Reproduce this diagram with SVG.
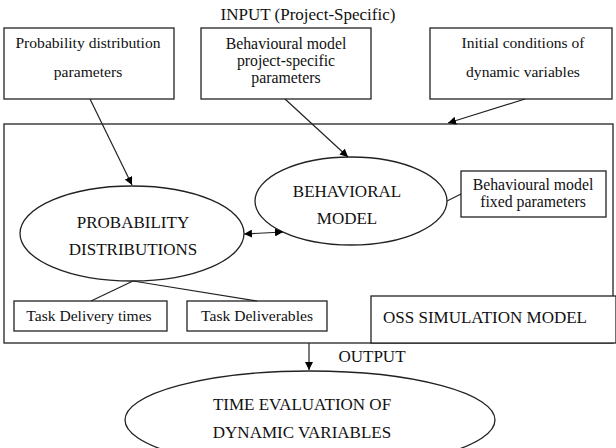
<svg xmlns="http://www.w3.org/2000/svg" width="616" height="448" viewBox="0 0 616 448">
<defs>
<marker id="ah" viewBox="0 0 10 10" refX="10" refY="5" markerWidth="8" markerHeight="8" markerUnits="userSpaceOnUse" orient="auto-start-reverse">
<path d="M0,0 L10,5 L0,10 z" fill="#000"/>
</marker>
<style>
rect,ellipse{fill:#fff;stroke:#222;stroke-width:1.3}
line{stroke:#222;stroke-width:1.2}
text{font-family:"Liberation Serif","Times New Roman",serif;fill:#111;text-anchor:middle}
.s{font-size:15.8px}
.m{font-size:15.6px}
.l{font-size:17px}
</style>
</defs>
<rect x="0" y="0" width="616" height="448" style="fill:#fff;stroke:none"/>
<text class="l" x="308" y="20">INPUT (Project-Specific)</text>
<g id="container"><rect x="4" y="124" width="609" height="219"/></g>
<g id="prob-params"><rect x="4" y="28" width="170" height="71"/>
<text class="m" x="88" y="48">Probability distribution</text>
<text class="m" x="88" y="77">parameters</text></g>
<g id="beh-params"><rect x="201" y="28" width="170" height="71"/>
<text class="s" x="286" y="49">Behavioural model</text>
<text class="s" x="286" y="66">project-specific</text>
<text class="s" x="286" y="83">parameters</text></g>
<g id="init-cond"><rect x="430" y="28" width="182" height="71"/>
<text class="m" x="523" y="48">Initial conditions of</text>
<text class="m" x="523" y="77">dynamic variables</text></g>
<g id="prob-dist"><ellipse cx="132" cy="233.5" rx="112" ry="47.5"/>
<text class="l" x="133" y="228">PROBABILITY</text>
<text class="l" x="133" y="255">DISTRIBUTIONS</text></g>
<g id="beh-model"><ellipse cx="351" cy="201" rx="96" ry="44"/>
<text class="l" x="347" y="197">BEHAVIORAL</text>
<text class="l" x="347" y="224">MODEL</text></g>
<g id="beh-fixed"><rect x="461" y="171" width="145" height="46"/>
<text class="s" x="533" y="190">Behavioural model</text>
<text class="s" x="533" y="207">fixed parameters</text></g>
<g id="task-times"><rect x="14" y="301" width="153" height="30"/>
<text class="m" x="89" y="321">Task Delivery times</text></g>
<g id="task-deliv"><rect x="187" y="301" width="140" height="30"/>
<text class="m" x="257" y="321">Task Deliverables</text></g>
<g id="oss"><rect x="371" y="296" width="245" height="47"/>
<text class="l" x="383" y="323" style="text-anchor:start">OSS SIMULATION MODEL</text></g>
<g id="time-eval"><ellipse cx="310" cy="420" rx="185" ry="49"/>
<text class="l" x="302" y="410">TIME EVALUATION OF</text>
<text class="l" x="302" y="438">DYNAMIC VARIABLES</text></g>
<text class="l" x="372" y="362">OUTPUT</text>
<g id="connectors">
<line x1="90" y1="99" x2="132" y2="185" marker-end="url(#ah)"/>
<line x1="285" y1="99" x2="348" y2="157" marker-end="url(#ah)"/>
<line x1="525" y1="99" x2="448" y2="123" marker-end="url(#ah)"/>
<line x1="244" y1="234" x2="283" y2="232" marker-start="url(#ah)" marker-end="url(#ah)"/>
<line x1="447" y1="201" x2="461" y2="194"/>
<line x1="133" y1="281" x2="91" y2="301"/>
<line x1="133" y1="281" x2="257" y2="301"/>
<line x1="309" y1="343" x2="309" y2="370" marker-end="url(#ah)"/>
</g>
</svg>
